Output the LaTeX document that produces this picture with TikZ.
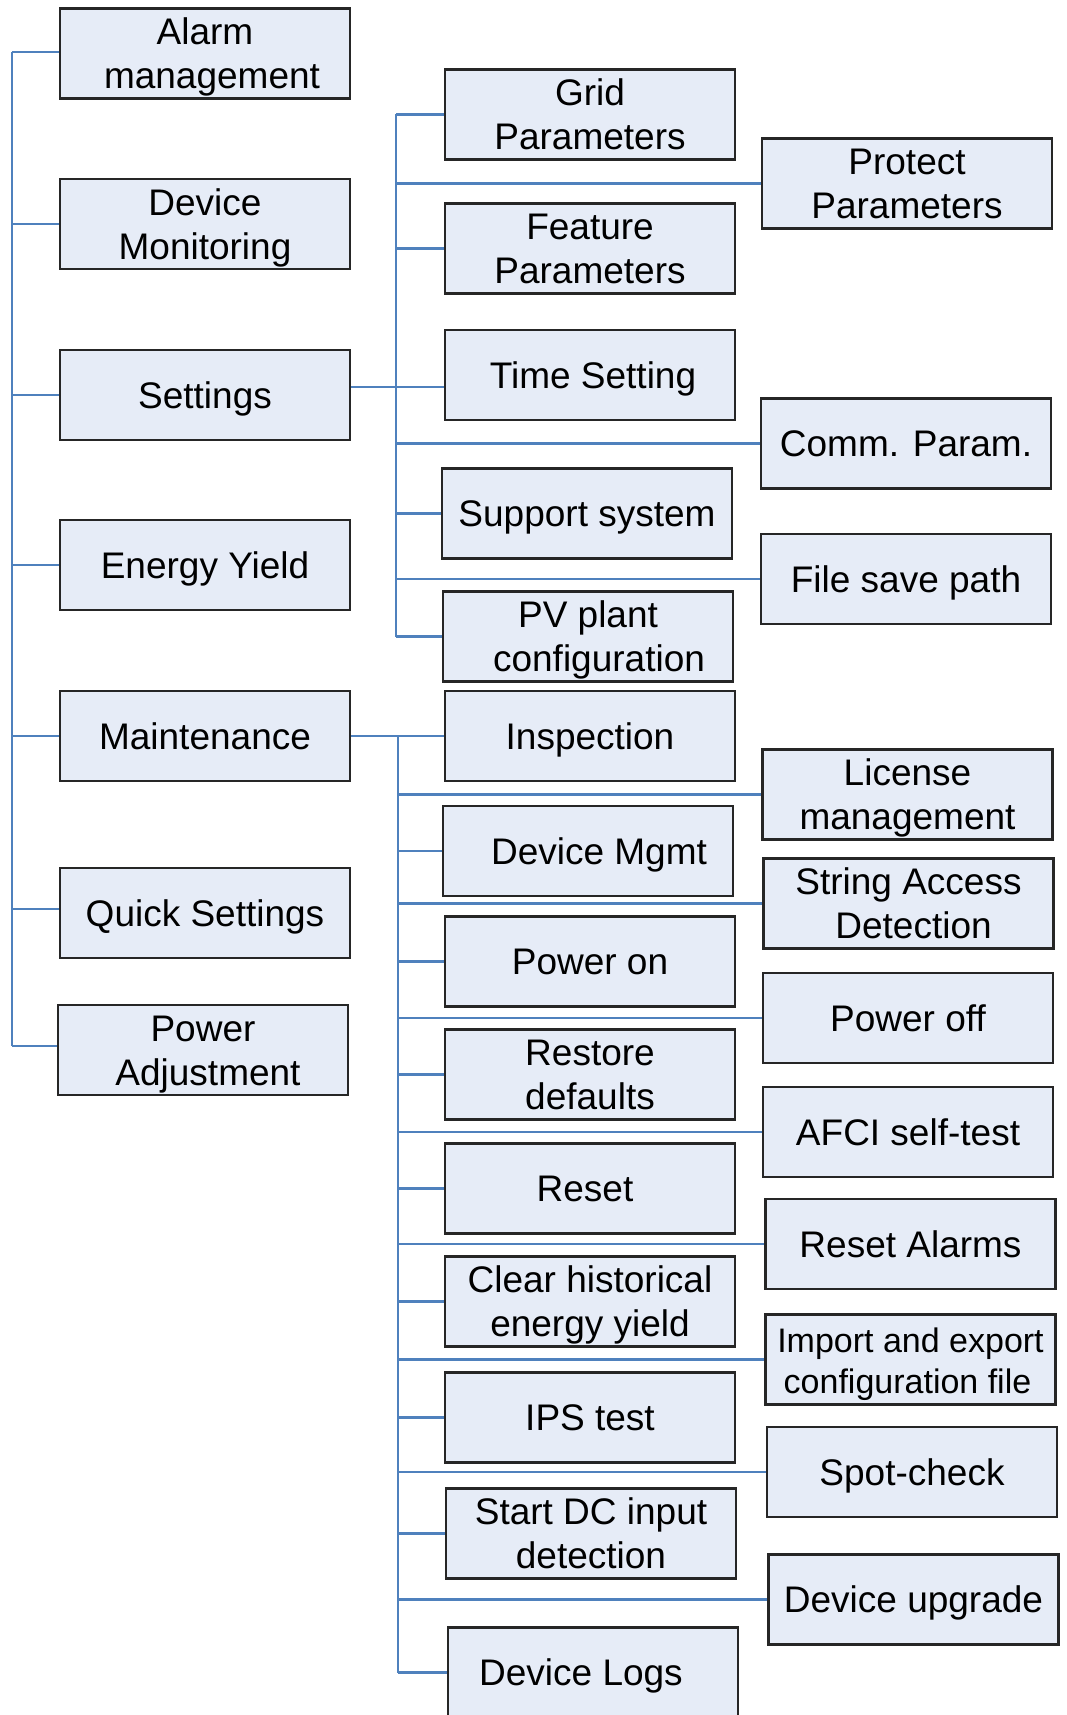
\documentclass[tikz,border=0pt]{standalone}
\usepackage{fontspec}
\setmainfont{Liberation Sans}
\definecolor{boxfill}{RGB}{230,236,247}
\definecolor{boxline}{RGB}{38,38,38}
\definecolor{connblue}{RGB}{79,129,189}
\newcommand\bxt[1]{\rule{0pt}{34pt}#1\rule[-8pt]{0pt}{8pt}}
\tikzset{
  menubox/.style={draw=boxline, fill=boxfill, line width=2.4pt, minimum width=290pt,
    minimum height=90pt, inner sep=0pt, align=center,
    font=\fontsize{37}{44}\selectfont},
  conn/.style={draw=connblue, line width=2.6pt}
}
\begin{document}
\begin{tikzpicture}[x=1pt,y=-1pt]
\useasboundingbox (0,0) rectangle (1066,1715);
% left column
\node[menubox] (alarm) at (205,53.5) {\bxt{Alarm\\\hspace*{14pt}management}};
\node[menubox] (dm) at (205,224) {\bxt{Device\\Monitoring}};
\node[menubox] (set) at (205,395) {\bxt{Settings}};
\node[menubox] (ey) at (205,565) {\bxt{Energy Yield}};
\node[menubox] (mt) at (205,736) {\bxt{Maintenance}};
\node[menubox] (qs) at (205,913) {\bxt{Quick Settings}};
\node[menubox] (pa) at (203,1050) {\bxt{Power\\\hspace*{10pt}Adjustment}};
% settings children
\node[menubox] (grid) at (590,114.5) {\bxt{Grid\\Parameters}};
\node[menubox] (feat) at (590,248.5) {\bxt{Feature\\Parameters}};
\node[menubox] (time) at (590,375) {\bxt{\hspace*{6pt}Time Setting}};
\node[menubox] (supp) at (587,513.5) {\bxt{Support system}};
\node[menubox] (pv) at (588,636.5) {\bxt{PV plant\\\hspace*{22pt}configuration}};
\node[menubox] (prot) at (907,183.5) {\bxt{Protect\\Parameters}};
\node[menubox] (comm) at (906,443.5) {\bxt{Comm. Param.}};
\node[menubox] (file) at (906,579) {\bxt{File save path}};
% maintenance children
\node[menubox] (insp) at (590,736) {\bxt{Inspection}};
\node[menubox] (dmg) at (588,851) {\bxt{\hspace*{22pt}Device Mgmt}};
\node[menubox] (pon) at (590,961.5) {\bxt{Power on}};
\node[menubox] (rest) at (590,1074.5) {\bxt{Restore\\defaults}};
\node[menubox] (reset) at (590,1188.5) {\bxt{\hspace*{-10pt}Reset}};
\node[menubox] (clear) at (590,1301.5) {\bxt{Clear historical\\energy yield}};
\node[menubox] (ips) at (590,1417.5) {\bxt{IPS test}};
\node[menubox] (sdc) at (591,1533.5) {\bxt{Start DC input\\detection}};
\node[menubox] (dlog) at (593,1672.5) {\bxt{\hspace*{-24pt}Device Logs}};
\node[menubox] (lic) at (907.5,794.5) {\bxt{License\\management}};
\node[menubox] (str) at (908.5,903.5) {\bxt{String Access\\\hspace*{10pt}Detection}};
\node[menubox] (poff) at (908,1018) {\bxt{Power off}};
\node[menubox] (afci) at (908,1132) {\bxt{AFCI self-test}};
\node[menubox] (ralm) at (910.5,1244) {\bxt{Reset Alarms}};
\node[menubox, font=\fontsize{34}{41}\selectfont] (imp) at (910.5,1359.5) {\bxt{Import and export\\\hspace*{-6pt}configuration file}};
\node[menubox] (spot) at (912,1472) {\bxt{Spot-check}};
\node[menubox] (dupg) at (913.5,1599.5) {\bxt{Device upgrade}};
% trunks
\coordinate (LT) at (12,0);
\coordinate (ST) at (396,0);
\coordinate (MT) at (398,0);
\draw[conn] ([yshift=1.5pt]LT |- alarm.west) -- ([yshift=4pt]LT |- pa.west);
\draw[conn] ([yshift=1.5pt]alarm.west) -- ([yshift=1.5pt]LT |- alarm.west);
\foreach \n in {dm,set,ey,mt}{\draw[conn] (LT |- \n.west) -- (\n.west);}
\draw[conn] ([yshift=4pt]qs.west) -- ([yshift=4pt]LT |- qs.west);
\draw[conn] ([yshift=4pt]pa.west) -- ([yshift=4pt]LT |- pa.west);
% settings
\draw[conn] (ST |- grid.west) -- (ST |- pv.west);
\foreach \n in {grid,feat,supp,pv,prot,comm,file}{\draw[conn] (ST |- \n.west) -- (\n.west);}
\draw[conn] ([yshift=8pt]set.east) -- ([yshift=8pt]set.east -| time.west);
% maintenance
\draw[conn] (MT |- insp.west) -- (MT |- dlog.west);
\draw[conn] (mt.east) -- (insp.west);
\foreach \n in {dmg,pon,rest,reset,clear,ips,sdc,dlog,lic,str,poff,afci,ralm,imp,spot,dupg}{\draw[conn] (MT |- \n.west) -- (\n.west);}
\end{tikzpicture}
\end{document}
